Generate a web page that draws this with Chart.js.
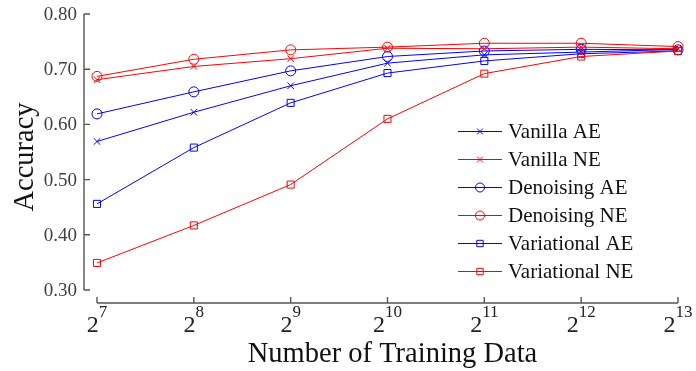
<!DOCTYPE html>
<html>
<head>
<meta charset="utf-8">
<script src="https://cdn.jsdelivr.net/npm/chart.js@4.4.1/dist/chart.umd.min.js"></script>
<style>
  html, body { margin: 0; padding: 0; background: #fff; }
  #wrap { width: 696px; height: 371px; }
</style>
</head>
<body>
<div id="wrap"><canvas id="accChart" width="696" height="371"></canvas></div>
<script>
// Training set sizes as powers of two
const exponents = [7, 8, 9, 10, 11, 12, 13];
const yTicks = [0.30, 0.40, 0.50, 0.60, 0.70, 0.80];

// Accuracy per model
const vanillaAE     = [0.569, 0.622, 0.670, 0.711, 0.726, 0.731, 0.736];
const vanillaNE     = [0.681, 0.705, 0.719, 0.738, 0.737, 0.740, 0.737];
const denoisingAE   = [0.619, 0.659, 0.697, 0.723, 0.733, 0.736, 0.735];
const denoisingNE   = [0.687, 0.718, 0.735, 0.740, 0.747, 0.747, 0.741];
const variationalAE = [0.456, 0.558, 0.639, 0.693, 0.715, 0.728, 0.733];
const variationalNE = [0.349, 0.417, 0.491, 0.610, 0.692, 0.723, 0.733];

const BLUE = '#0000ff';
const RED = '#ff0000';
const SERIF = "'Liberation Serif', 'Times New Roman', serif";

const series = [
    { label: 'Vanilla AE',     data: vanillaAE,     color: BLUE, marker: 'crossRot' },
    { label: 'Vanilla NE',     data: vanillaNE,     color: RED,  marker: 'crossRot' },
    { label: 'Denoising AE',   data: denoisingAE,   color: BLUE, marker: 'circle' },
    { label: 'Denoising NE',   data: denoisingNE,   color: RED,  marker: 'circle' },
    { label: 'Variational AE', data: variationalAE, color: BLUE, marker: 'rect' },
    { label: 'Variational NE', data: variationalNE, color: RED,  marker: 'rect' }
];

function markerRadius(style) {
    if (style === 'crossRot') return 4.6;
    return 5;
}

// Offset axes, tick labels, titles and legend drawn by hand
const decorPlugin = {
    id: 'decor',
    afterDraw(chart) {
        const ctx = chart.ctx;
        const area = chart.chartArea;
        const xs = chart.scales.x;
        const ys = chart.scales.y;
        const axisX = area.left - 13;
        const axisY = area.bottom + 13;

        ctx.save();
        ctx.strokeStyle = '#555';
        ctx.lineWidth = 1.4;

        // y axis line + inward ticks
        ctx.beginPath();
        ctx.moveTo(axisX, ys.getPixelForValue(0.80));
        ctx.lineTo(axisX, ys.getPixelForValue(0.30));
        yTicks.forEach(v => {
            const py = ys.getPixelForValue(v);
            ctx.moveTo(axisX, py);
            ctx.lineTo(axisX + 6, py);
        });
        ctx.stroke();

        // x axis line + inward ticks
        ctx.beginPath();
        ctx.moveTo(xs.getPixelForValue(7), axisY);
        ctx.lineTo(xs.getPixelForValue(13), axisY);
        exponents.forEach(e => {
            const px = xs.getPixelForValue(e);
            ctx.moveTo(px, axisY);
            ctx.lineTo(px, axisY - 6);
        });
        ctx.stroke();

        // y tick labels
        ctx.fillStyle = '#404040';
        ctx.font = '19px ' + SERIF;
        ctx.textAlign = 'right';
        ctx.textBaseline = 'middle';
        yTicks.forEach(v => {
            ctx.fillText(v.toFixed(2), axisX - 7, ys.getPixelForValue(v) + 1);
        });

        // x tick labels as 2^n
        ctx.textBaseline = 'alphabetic';
        ctx.textAlign = 'left';
        ctx.fillStyle = '#222';
        exponents.forEach(e => {
            const px = xs.getPixelForValue(e);
            ctx.font = '24px ' + SERIF;
            const baseW = ctx.measureText('2').width;
            ctx.font = '17px ' + SERIF;
            const supW = ctx.measureText(String(e)).width;
            const start = px - (baseW + supW) / 2;
            ctx.font = '24px ' + SERIF;
            ctx.fillText('2', start, 332);
            ctx.font = '17px ' + SERIF;
            ctx.fillText(String(e), start + baseW, 317);
        });

        // axis titles
        ctx.fillStyle = '#111';
        ctx.font = '28.5px ' + SERIF;
        ctx.textAlign = 'center';
        ctx.fillText('Number of Training Data', (area.left + area.right) / 2 + 5, 362);

        ctx.save();
        ctx.translate(33, 157);
        ctx.rotate(-Math.PI / 2);
        ctx.fillText('Accuracy', 0, 0);
        ctx.restore();

        // legend
        ctx.font = '21px ' + SERIF;
        ctx.textAlign = 'left';
        ctx.lineWidth = 1;
        series.forEach((s, i) => {
            const ry = 131.5 + i * 28;
            ctx.strokeStyle = s.color;
            ctx.fillStyle = 'rgba(0,0,0,0)';
            ctx.beginPath();
            ctx.moveTo(458, ry);
            ctx.lineTo(502, ry);
            ctx.stroke();
            Chart.helpers.drawPoint(ctx, {
                pointStyle: s.marker,
                radius: s.marker === 'circle' ? 4.5 : markerRadius(s.marker) - 0.5,
                rotation: 0,
                borderWidth: 1
            }, 480, ry);
            ctx.fillStyle = '#111';
            ctx.fillText(s.label, 508, ry + 6);
        });

        ctx.restore();
    }
};

const ctx = document.getElementById('accChart').getContext('2d');

new Chart(ctx, {
    type: 'line',
    data: {
        datasets: series.map((s, i) => ({
            label: s.label,
            data: s.data.map((v, j) => ({ x: exponents[j], y: v })),
            borderColor: s.color,
            backgroundColor: 'rgba(0,0,0,0)',
            borderWidth: 1,
            pointStyle: s.marker,
            pointRadius: markerRadius(s.marker),
            pointBorderColor: s.color,
            pointBackgroundColor: 'rgba(0,0,0,0)',
            pointBorderWidth: 1,
            tension: 0,
            clip: false,
            order: series.length - i
        }))
    },
    options: {
        responsive: false,
        animation: false,
        devicePixelRatio: 1,
        layout: {
            padding: { left: 97, right: 18, top: 14, bottom: 81 }
        },
        plugins: {
            legend: { display: false },
            tooltip: { enabled: false }
        },
        scales: {
            x: { type: 'linear', min: 7, max: 13, display: false },
            y: { type: 'linear', min: 0.30, max: 0.80, display: false }
        }
    },
    plugins: [decorPlugin]
});
</script>
</body>
</html>
